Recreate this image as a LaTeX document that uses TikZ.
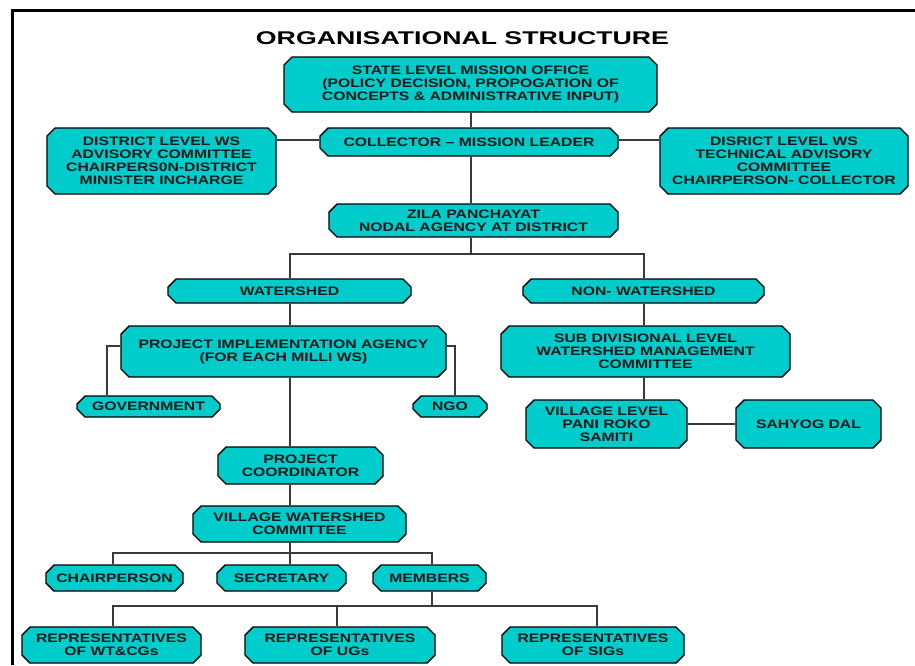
\documentclass[tikz,border=0pt]{standalone}
\usepackage{fontspec}
\setmainfont{Liberation Sans}
\newfontfamily\boxfont{Liberation Sans}[FakeStretch=1.28]
\newfontfamily\titlefont{Liberation Sans}[FakeStretch=1.45]
\usetikzlibrary{shapes.misc}

\definecolor{boxcyan}{HTML}{00CCCC}
\definecolor{linegray}{HTML}{3A3A3A}

\tikzset{
  orgbox/.style={chamfered rectangle, chamfered rectangle xsep=4pt,
    chamfered rectangle ysep=4pt, draw=black, line width=1.4pt, fill=boxcyan,
    inner sep=0pt, align=center, text=black!90,
    font=\boxfont\bfseries\fontsize{12.3}{13}\selectfont},
  link/.style={draw=linegray, line width=2pt}
}

\begin{document}
\begin{tikzpicture}[x=1pt, y=-1pt]

    \useasboundingbox (0,0) rectangle (915,665);

    % Marco
    \draw[line width=3pt] (915,10) -- (12,10) -- (12,665);

    % Titulo
    \node (title) at (462.5,38) {\titlefont\bfseries\fontsize{18.4}{20}\selectfont ORGANISATIONAL STRUCTURE};

    % Nivel estatal y distrito
    \node[orgbox, minimum width=373pt, minimum height=55pt] (state) at (470.5,84.5)
        {STATE LEVEL MISSION OFFICE\\(POLICY DECISION, PROPOGATION OF\\CONCEPTS \& ADMINISTRATIVE INPUT)};
    \node[orgbox, minimum width=298pt, minimum height=28pt] (coll) at (469,142)
        {COLLECTOR – MISSION LEADER};
    \node[orgbox, minimum width=229pt, minimum height=66pt] (adv) at (161.5,161)
        {DISTRICT LEVEL WS\\ADVISORY COMMITTEE\\CHAIRPERS0N-DISTRICT\\MINISTER INCHARGE};
    \node[orgbox, minimum width=248pt, minimum height=66pt] (tech) at (784,161)
        {DISRICT LEVEL WS\\TECHNICAL ADVISORY\\COMMITTEE\\CHAIRPERSON- COLLECTOR};
    \node[orgbox, minimum width=289pt, minimum height=33pt] (zila) at (473.5,220.5)
        {ZILA PANCHAYAT\\NODAL AGENCY AT DISTRICT};

    % Rama watershed
    \node[orgbox, minimum width=243pt, minimum height=24pt] (ws) at (289.5,291) {WATERSHED};
    \node[orgbox, minimum width=325pt, minimum height=51pt] (pia) at (283.5,351.5)
        {PROJECT IMPLEMENTATION AGENCY\\(FOR EACH MILLI WS)};
    \node[orgbox, minimum width=143pt, minimum height=21pt] (gov) at (148.5,406.5) {GOVERNMENT};
    \node[orgbox, minimum width=74pt, minimum height=21pt] (ngo) at (450,406.5) {NGO};
    \node[orgbox, minimum width=165pt, minimum height=37pt] (pc) at (300.5,465.5)
        {PROJECT\\COORDINATOR};
    \node[orgbox, minimum width=213pt, minimum height=36pt] (vwc) at (299.5,524)
        {VILLAGE WATERSHED\\COMMITTEE};
    \node[orgbox, minimum width=137pt, minimum height=26pt] (chair) at (114.5,578) {CHAIRPERSON};
    \node[orgbox, minimum width=129pt, minimum height=26pt] (sec) at (281.5,578) {SECRETARY};
    \node[orgbox, minimum width=113pt, minimum height=26pt] (mem) at (429.5,578) {MEMBERS};
    \node[orgbox, minimum width=179pt, minimum height=36pt] (wtcg) at (111.5,645)
        {REPRESENTATIVES\\OF WT\&CGs};
    \node[orgbox, minimum width=190pt, minimum height=36pt] (ug) at (340,645)
        {REPRESENTATIVES\\OF UGs};
    \node[orgbox, minimum width=182pt, minimum height=36pt] (sig) at (593,645)
        {REPRESENTATIVES\\OF SIGs};

    % Rama non-watershed
    \node[orgbox, minimum width=241pt, minimum height=24pt] (nonws) at (643.5,291) {NON- WATERSHED};
    \node[orgbox, minimum width=289pt, minimum height=51pt] (subdiv) at (645.5,351.5)
        {SUB DIVISIONAL LEVEL\\WATERSHED MANAGEMENT\\COMMITTEE};
    \node[orgbox, minimum width=161pt, minimum height=48pt] (vlevel) at (606.5,424)
        {VILLAGE LEVEL\\PANI ROKO\\SAMITI};
    \node[orgbox, minimum width=145pt, minimum height=48pt] (sahyog) at (808.5,424) {SAHYOG DAL};

    % Puntos de los conectores
    \coordinate (top) at (471,0);
    \coordinate (zbus) at (471,254);
    \coordinate (trunk) at (290,0);
    \coordinate (vbus) at (290,553);
    \coordinate (mbus) at (432,606);
    \coordinate (nws) at (644,0);

    % Conectores superiores
    \draw[link] (state.south -| top) -- (coll.north -| top);
    \draw[link] (coll.south -| top) -- (zila.north -| top);
    \draw[link] ([yshift=2pt]coll.west) -- ([yshift=2pt]coll.west -| adv.east);
    \draw[link] ([yshift=2pt]coll.east) -- ([yshift=2pt]coll.east -| tech.west);
    \draw[link] (zila.south -| zbus) -- (zbus);
    \draw[link] (ws.north -| trunk) |- (zbus) -| (nonws.north -| nws);

    % Conectores watershed
    \draw[link] (ws.south -| trunk) -- (pia.north -| trunk);
    \draw[link] ([yshift=5.5pt]pia.west) -| ([xshift=-41.5pt]gov.north);
    \draw[link] ([yshift=5.5pt]pia.east) -| ([xshift=5pt]ngo.north);
    \draw[link] (pia.south -| trunk) -- (pc.north -| trunk);
    \draw[link] (pc.south -| trunk) -- (vwc.north -| trunk);
    \draw[link] (vwc.south -| trunk) -- (sec.north -| trunk);
    \draw[link] ([xshift=-1.5pt]chair.north) |- (vbus) -| ([xshift=2.5pt]mem.north);
    \draw[link] ([xshift=2.5pt]mem.south) -- ([xshift=2.5pt]mem.south |- mbus);
    \draw[link] ([xshift=1.5pt]wtcg.north) |- (mbus) -| ([xshift=4pt]sig.north);
    \draw[link] ([xshift=-3pt]ug.north) -- ([xshift=-3pt]ug.north |- mbus);

    % Conectores non-watershed
    \draw[link] (nonws.south -| nws) -- (subdiv.north -| nws);
    \draw[link] (subdiv.south -| nws) -- (vlevel.north -| nws);
    \draw[link] (vlevel.east) -- (sahyog.west);

\end{tikzpicture}
\end{document}
